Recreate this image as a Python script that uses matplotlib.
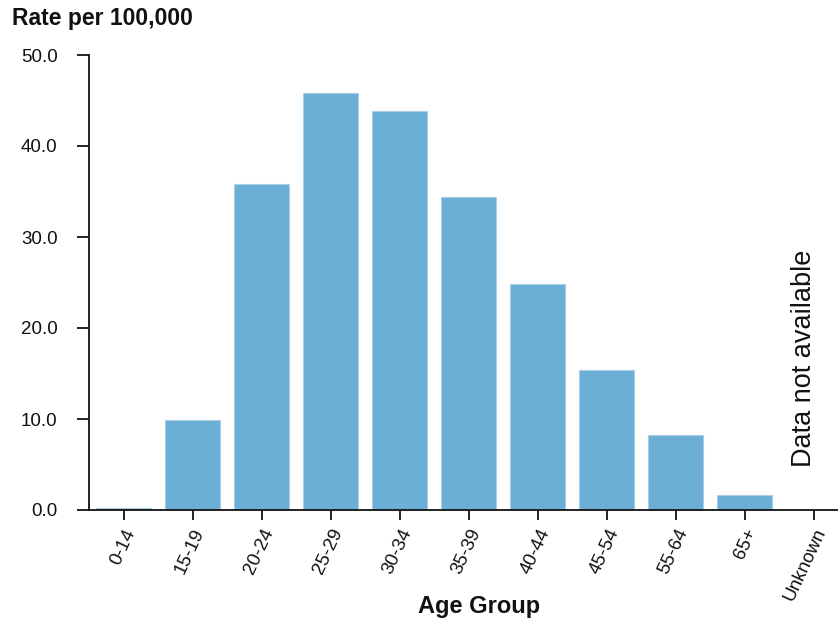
import matplotlib
matplotlib.use("Agg")
import matplotlib.pyplot as plt
import numpy as np

plt.rcParams['font.family'] = ['Liberation Sans', 'DejaVu Sans']

categories = ["0-14", "15-19", "20-24", "25-29", "30-34", "35-39", "40-44",
              "45-54", "55-64", "65+", "Unknown"]
rates = [0.2, 9.9, 35.8, 45.8, 43.8, 34.4, 24.8, 15.4, 8.2, 1.7, np.nan]
yticks = [0, 10, 20, 30, 40, 50]

fig = plt.figure(figsize=(8.38, 6.23), dpi=100)
ax = fig.add_axes([89/838, 113/623, (838-89)/838, (510-55)/623])

x = np.arange(len(categories))
ax.bar(x, rates, width=0.8, color="#6baed6", edgecolor="#a9cfe8", linewidth=0.8)

ax.set_xlim(-0.5, 10.35)
ax.set_ylim(0, 50)
ax.set_yticks(yticks)
ax.set_yticklabels([f"{v:.1f}" for v in yticks], fontsize=13.5)
ax.set_xticks(x)
ax.set_xticklabels(categories, fontsize=13.5, rotation=65, ha='right',
                   rotation_mode='anchor')

for s in ['top', 'right']:
    ax.spines[s].set_visible(False)
for s in ['left', 'bottom']:
    ax.spines[s].set_linewidth(1.3)
    ax.spines[s].set_color('#111111')
ax.tick_params(axis='y', length=8.6, width=1.3, pad=14, colors='#111111')
ax.tick_params(axis='x', length=7.5, width=1.3, pad=4, colors='#111111')

ax.text(9.86, 16.7, "Data not available", rotation=90, ha='center', va='center',
        fontsize=19.5, color='#111111')

fig.text(12/838, 1 - 18/623, "Rate per 100,000", fontsize=16.5, fontweight='bold',
         ha='left', va='center', color='#111111')
fig.text(479/838, 1 - 607/623, "Age Group", fontsize=17, fontweight='bold',
         ha='center', va='center', color='#111111')

fig.savefig("out.png", dpi=100)
